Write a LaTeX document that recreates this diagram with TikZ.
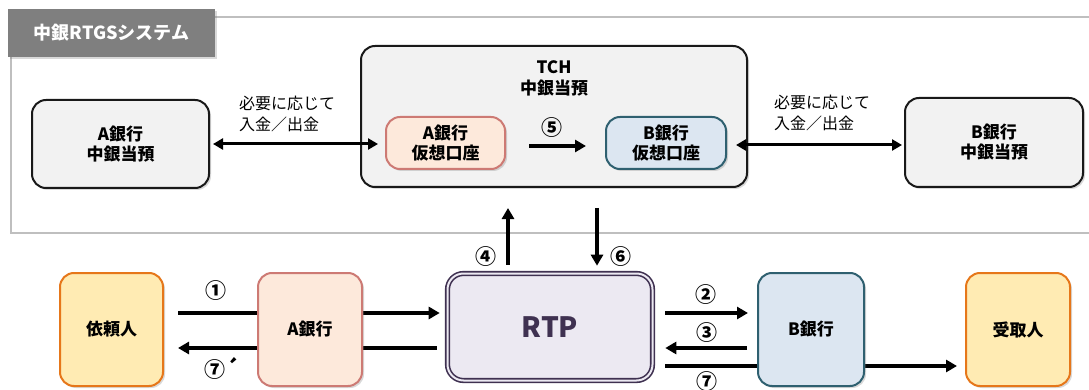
\documentclass[tikz,border=0pt]{standalone}
\usepackage{fontspec}
\setmainfont{Noto Sans CJK JP}
\usetikzlibrary{arrows.meta,shadows,calc}
\pgfdeclarelayer{background}
\pgfsetlayers{background,main}
\definecolor{framec}{HTML}{BFBFBF}
\definecolor{titlec}{HTML}{7F7F7F}
\definecolor{grayfill}{HTML}{F2F2F2}
\definecolor{afill}{HTML}{FDE9DB}
\definecolor{adraw}{HTML}{CD7A74}
\definecolor{bfill}{HTML}{DCE6F1}
\definecolor{bdraw}{HTML}{2F6070}
\definecolor{rfill}{HTML}{ECE9F2}
\definecolor{rdraw}{HTML}{3F3151}
\definecolor{yfill}{HTML}{FFEBB3}
\definecolor{ydraw}{HTML}{E6771A}
\begin{document}
\begin{tikzpicture}[x=1pt,y=-1pt,
  shadowed/.style={drop shadow={shadow xshift=2pt,shadow yshift=-2pt,opacity=0.3}},
  box/.style={shadowed,rounded corners=14pt,line width=2pt,inner sep=0pt,align=center,
    font=\fontsize{17}{20}\selectfont\bfseries},
  graybox/.style={box,draw=black!90,fill=grayfill},
  abox/.style={box,draw=adraw,fill=afill},
  bbox/.style={box,draw=bdraw,fill=bfill},
  ybox/.style={box,draw=ydraw,fill=yfill},
  arr/.style={line width=3.5pt,-{Triangle[length=11pt,width=12pt]}},
  darr/.style={line width=3pt,{Triangle[length=10pt,width=11pt]}-{Triangle[length=10pt,width=11pt]}},
  num/.style={inner sep=0pt,font=\fontsize{21}{21}\selectfont\bfseries},
  note/.style={inner sep=0pt,align=left,font=\fontsize{16}{21}\selectfont}]
\useasboundingbox (0,0) rectangle (1089,390);

% frame
\draw[framec,line width=1.5pt] (11,17) rectangle (1100,233);
\node[shadowed,fill=titlec,minimum width=207pt,minimum height=48pt,inner sep=0pt,
  text=white,font=\fontsize{18}{18}\selectfont\bfseries] (title) at (111.5,33) {中銀RTGSシステム};

% upper nodes
\node[graybox,minimum width=177pt,minimum height=88pt] (aboj) at (120.5,144) {A銀行\\中銀当預};
\node[graybox,minimum width=386pt,minimum height=141pt] (tch) at (554,116.5) {};
\node[inner sep=0pt,align=center,font=\fontsize{17}{21}\selectfont\bfseries] (tchlabel) at (554,78) {TCH\\中銀当預};
\node[abox,minimum width=119pt,minimum height=52pt] (akaso) at (445.5,143) {A銀行\\仮想口座};
\node[bbox,minimum width=120pt,minimum height=52pt] (bkaso) at (666,143) {B銀行\\仮想口座};
\node[graybox,minimum width=178pt,minimum height=89pt] (bboj) at (994,142.5) {B銀行\\中銀当預};

% lower nodes
\node[ybox,minimum width=103pt,minimum height=113pt] (irai) at (111.5,329.5) {依頼人};
\node[abox,minimum width=104pt,minimum height=113pt] (abank) at (310,329.5) {A銀行};
\node[shadowed,rounded corners=16pt,draw=rdraw,double=rfill,line width=1.6pt,double distance=2pt,
  fill=rfill,minimum width=205pt,minimum height=107pt,inner sep=0pt,text=rdraw,
  font=\fontsize{28}{28}\selectfont\bfseries] (rtp) at (550,327) {RTP};
\node[bbox,minimum width=106pt,minimum height=113pt] (bbank) at (811,329.5) {B銀行};
\node[ybox,minimum width=104pt,minimum height=113pt] (uketori) at (1018,329.5) {受取人};

% connectors behind boxes
\begin{pgfonlayer}{background}
\draw[arr] ($(irai.east)+(14,-16.5)$) -- ($(rtp.west)+(-7,-14)$);
\draw[arr] ($(rtp.west)+(-10,21)$) -- ($(irai.east)+(14,18.5)$);
\draw[arr] ($(rtp.east)+(12,39)$) -- ($(uketori.west)+(-8,36.5)$);
\end{pgfonlayer}

\draw[darr] ($(aboj.east)+(3,0)$) -- ($(akaso.west)+(-7,1)$);
\draw[darr] ($(bkaso.east)+(9,2)$) -- ($(bboj.west)+(-2,2.5)$);
\draw[arr] ($(akaso.east)+(23,3)$) -- ($(bkaso.west)+(-19,3)$);
\draw[arr] ($(rtp.north)+(-42,-8)$) -- ($(tch.south)+(-46,20)$);
\draw[arr] ($(tch.south)+(43,20)$) -- ($(rtp.north)+(47,-7)$);
\draw[arr] ($(rtp.east)+(12,-14)$) -- ($(bbank.west)+(-9,-16.5)$);
\draw[arr] ($(bbank.west)+(-10,18.5)$) -- ($(rtp.east)+(12,21)$);

% labels
\node[note] (n1) at (287,113.5) {必要に応じて\\入金／出金};
\node[note] (n2) at (822,113) {必要に応じて\\入金／出金};
\node[num] (l5) at (552,128) {⑤};
\node[num] (l4) at (486,257) {④};
\node[num] (l6) at (621,257) {⑥};
\node[num] (l1) at (216,291) {①};
\node[num,anchor=west] (l7a) at (204,368) {⑦´};
\node[num] (l2) at (706,295) {②};
\node[num] (l3) at (707,333) {③};
\node[num] (l7) at (707,382) {⑦};
\end{tikzpicture}
\end{document}
